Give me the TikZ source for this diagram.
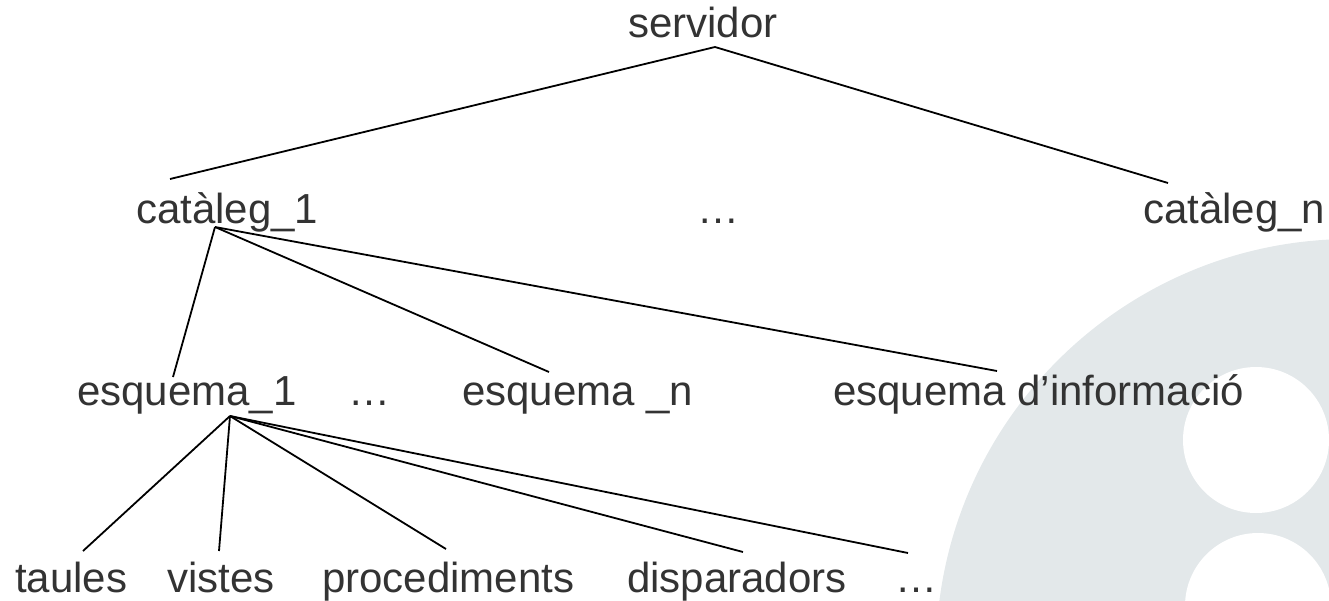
\documentclass[tikz,border=0pt]{standalone}
\usepackage{fontspec}
\setmainfont{Liberation Sans}
\definecolor{txt}{HTML}{333333}
\definecolor{logo}{HTML}{E3E8EA}
\begin{document}
\begin{tikzpicture}[x=1pt,y=-1pt,
  lbl/.style={inner sep=0pt, anchor=base west, text=txt, font=\fontsize{42}{50}\selectfont},
  dotslbl/.style={lbl, anchor=base},
  edge/.style={line width=1.8pt, black}]
\useasboundingbox (0,0) rectangle (1329,600);
\begin{scope}
\clip (0,0) rectangle (1329,600);
\fill[logo] (1351,654) circle[radius=415];
\fill[white] (1256,440) circle[radius=73];
\fill[white] (1258,606) circle[radius=73];
\end{scope}
% labels
\node[lbl] (serv) at (628,37) {servidor};
\node[lbl] (cat1) at (136,223) {catàleg\_1};
\node[dotslbl] (dots1) at (718,223) {…};
\node[lbl] (catn) at (1143,223) {catàleg\_n};
\node[lbl] (esq1) at (77,405) {esquema\_1};
\node[dotslbl] (dots2) at (369,405) {…};
\node[lbl] (esqn) at (462,405) {esquema \_n};
\node[lbl] (esqi) at (833,405) {esquema d’informació};
\node[lbl] (taules) at (15,592) {taules};
\node[lbl] (vistes) at (167,592) {vistes};
\node[lbl] (proc) at (322,592) {procediments};
\node[lbl] (disp) at (627,592) {disparadors};
\node[dotslbl] (dots3) at (916,592) {…};
% connector end points
\coordinate (sA) at (715,47);
\coordinate (c1T) at (170,179);
\coordinate (cnT) at (1168,183);
\coordinate (c1A) at (215,227);
\coordinate (e1T) at (173,377);
\coordinate (enT) at (549,372);
\coordinate (eiT) at (997,371);
\coordinate (e1A) at (230,416);
\coordinate (tT) at (83,551);
\coordinate (vT) at (219,551);
\coordinate (pT) at (446,549);
\coordinate (dT) at (743,552);
\coordinate (xT) at (908,553);
% connectors
\draw[edge] (sA) -- (c1T);
\draw[edge] (sA) -- (cnT);
\draw[edge] (c1A) -- (e1T);
\draw[edge] (c1A) -- (enT);
\draw[edge] (c1A) -- (eiT);
\draw[edge] (e1A) -- (tT);
\draw[edge] (e1A) -- (vT);
\draw[edge] (e1A) -- (pT);
\draw[edge] (e1A) -- (dT);
\draw[edge] (e1A) -- (xT);
\end{tikzpicture}
\end{document}
